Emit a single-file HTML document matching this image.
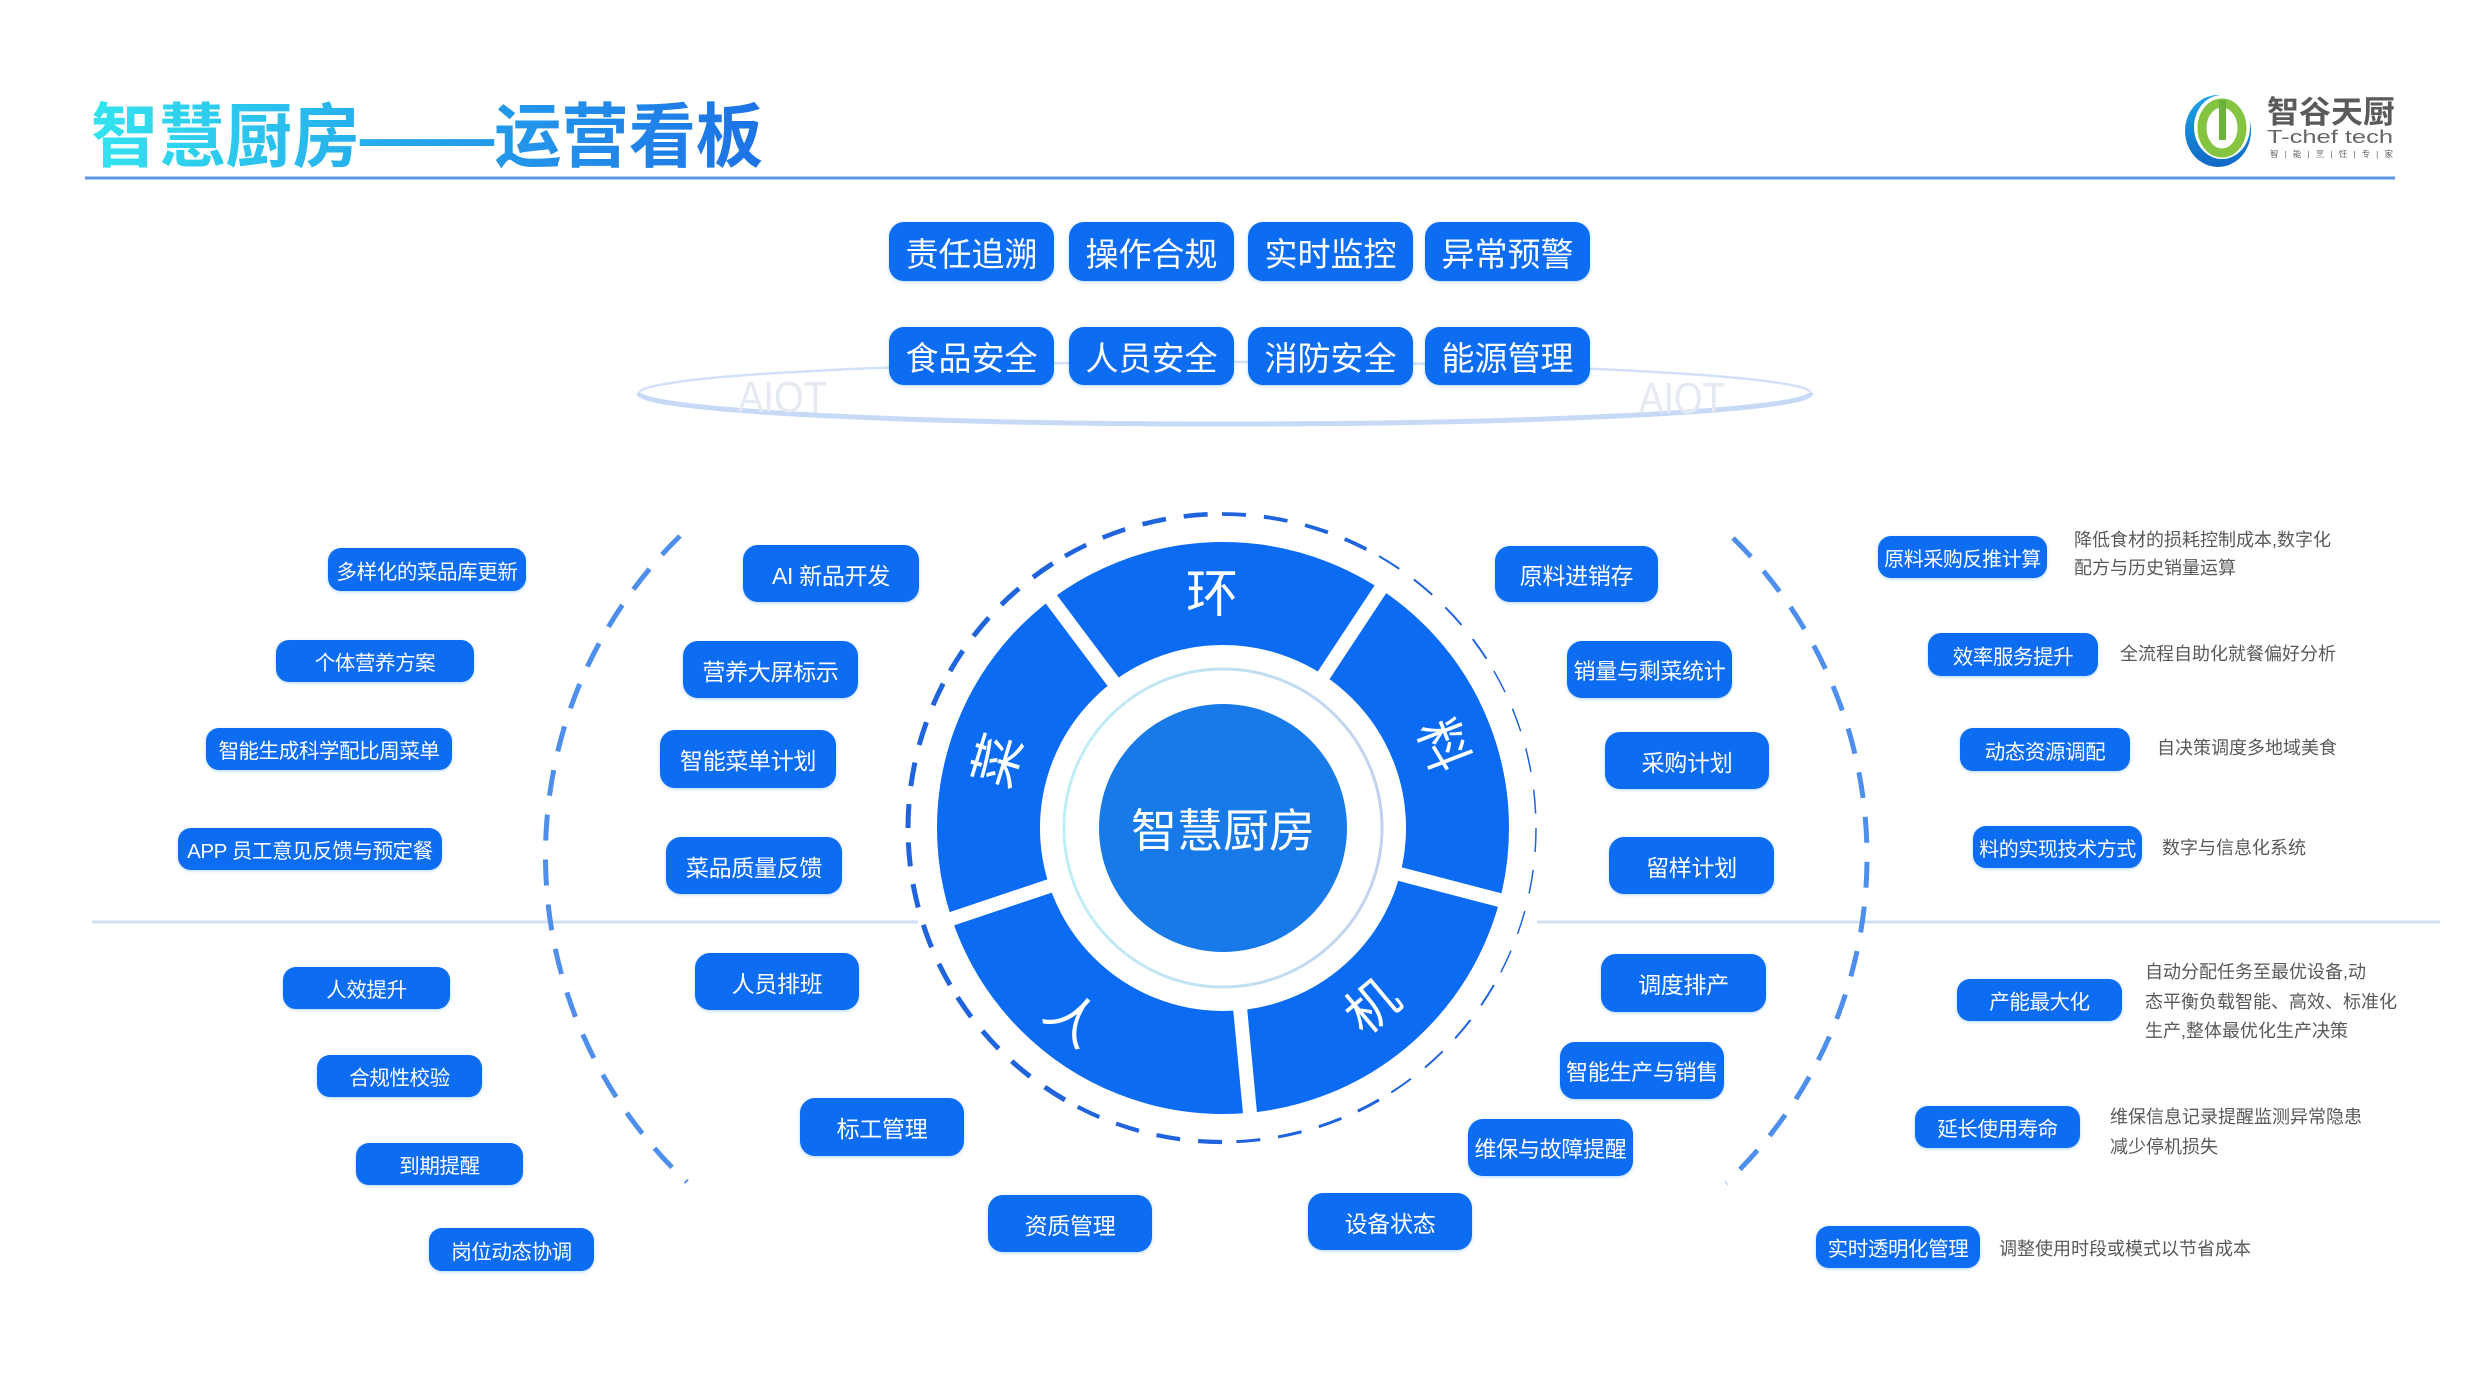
<!DOCTYPE html>
<html><head><meta charset="utf-8"><style>
html,body{margin:0;padding:0;background:#fff}
#p{position:relative;width:2481px;height:1395px;overflow:hidden;background:#fff;font-family:"Liberation Sans","Noto Sans CJK SC",sans-serif}
svg{position:absolute;left:0;top:0}
.b{position:absolute;display:flex;align-items:center;justify-content:center;color:#fff;background:#0c6cf2;white-space:nowrap;box-shadow:0 1px 3px rgba(40,140,240,.35);font-family:"Liberation Sans","Noto Sans CJK SC",sans-serif}
.s{font-size:20.5px;border-radius:13px;letter-spacing:-0.4px}
.m{font-size:23px;border-radius:15px;letter-spacing:-0.3px}
.t{font-size:33px;border-radius:15px}
.d{position:absolute;font-size:18px;color:#595959;white-space:nowrap;font-family:"Liberation Sans","Noto Sans CJK SC",sans-serif}
</style></head><body><div id="p">
<svg width="2481" height="1395" viewBox="0 0 2481 1395" xmlns="http://www.w3.org/2000/svg">
<defs>
<linearGradient id="tg" x1="91" y1="0" x2="763" y2="0" gradientUnits="userSpaceOnUse">
<stop offset="0" stop-color="#33e4ef"/><stop offset="0.45" stop-color="#25a8ec"/><stop offset="1" stop-color="#1d72e6"/>
</linearGradient>
<linearGradient id="rg" x1="1064" y1="0" x2="1382" y2="0" gradientUnits="userSpaceOnUse">
<stop offset="0" stop-color="#c0eef6"/><stop offset="1" stop-color="#c2d2ee"/>
</linearGradient>
<linearGradient id="lg" x1="0" y1="0" x2="0" y2="1">
<stop offset="0" stop-color="#1aa5e6"/><stop offset="1" stop-color="#1168c6"/>
</linearGradient>
</defs>

<!-- title -->
<text x="91" y="161" font-size="70" font-weight="bold" fill="url(#tg)" textLength="672" lengthAdjust="spacingAndGlyphs" font-family="Liberation Sans, Noto Sans CJK SC, sans-serif">智慧厨房——运营看板</text>
<line x1="85" y1="178" x2="2395" y2="178" stroke="#6096e8" stroke-width="3"/>

<!-- logo -->
<ellipse cx="2218" cy="131" rx="33" ry="36" fill="url(#lg)"/>
<ellipse cx="2222" cy="127" rx="28" ry="32" fill="#fff"/>
<ellipse cx="2222" cy="128" rx="20" ry="25" fill="none" stroke="#84c441" stroke-width="9"/>
<rect x="2219" y="100" width="7" height="40" fill="#6cb33c"/>
<text x="2267" y="123" font-size="31" font-weight="bold" fill="#5a5a5a" textLength="128" lengthAdjust="spacingAndGlyphs" font-family="Liberation Sans, Noto Sans CJK SC, sans-serif">智谷天厨</text>
<text x="2267" y="143" font-size="18" fill="#666" textLength="126" lengthAdjust="spacingAndGlyphs" font-family="Liberation Sans, sans-serif">T-chef tech</text>
<text x="2270" y="157" font-size="8.5" fill="#666" textLength="123" lengthAdjust="spacing" font-family="Liberation Sans, Noto Sans CJK SC, sans-serif">智 | 能 | 烹 | 饪 | 专 | 家</text>

<!-- AIOT ellipse -->
<path d="M639 393 A586 31 0 0 0 1811 393" fill="none" stroke="#c6d9f6" stroke-width="5"/>
<path d="M639 393 A586 31 0 0 1 1811 393" fill="none" stroke="#d2e1f8" stroke-width="2.5"/>
<text x="738" y="412" font-size="44" fill="#e5e9f1" textLength="89" lengthAdjust="spacingAndGlyphs" font-family="Liberation Sans, sans-serif">AIOT</text>
<text x="1639" y="413" font-size="44" fill="#e5e9f1" textLength="86" lengthAdjust="spacingAndGlyphs" font-family="Liberation Sans, sans-serif">AIOT</text>

<!-- horizontal divider -->
<line x1="92" y1="922" x2="918" y2="922" stroke="#cfe0f6" stroke-width="3"/>
<line x1="1537" y1="922" x2="2440" y2="922" stroke="#cfe0f6" stroke-width="3"/>

<!-- side dashed arcs -->
<path d="M680 536 A447 447 0 0 0 687 1182" fill="none" stroke="#4e8eec" stroke-width="5" stroke-dasharray="26 19"/>
<path d="M1733 538 A447 447 0 0 1 1726 1183" fill="none" stroke="#4e8eec" stroke-width="5" stroke-dasharray="26 19"/>

<!-- dashed circle with taper -->
<g fill="none" stroke="#1f64dc" stroke-dasharray="24 18">
<path d="M1536 828 A314 314 0 0 1 1493.9 985" stroke-width="1.5"/>
<path d="M1493.9 985 A314 314 0 0 1 1379 1099.9" stroke-width="2"/>
<path d="M1379 1099.9 A314 314 0 0 1 1222 1142" stroke-width="3"/>
<path d="M1222 1142 A314 314 0 0 1 1065 1099.9" stroke-width="4.2"/>
<path d="M1065 1099.9 A314 314 0 0 1 950.1 985" stroke-width="5"/>
<path d="M950.1 985 A314 314 0 0 1 908 828" stroke-width="5"/>
<path d="M908 828 A314 314 0 0 1 950.1 671" stroke-width="5"/>
<path d="M950.1 671 A314 314 0 0 1 1065 556.1" stroke-width="5"/>
<path d="M1065 556.1 A314 314 0 0 1 1222 514" stroke-width="4.6"/>
<path d="M1222 514 A314 314 0 0 1 1379 556.1" stroke-width="3.8"/>
<path d="M1379 556.1 A314 314 0 0 1 1493.9 671" stroke-width="2"/>
<path d="M1493.9 671 A314 314 0 0 1 1536 828" stroke-width="1.5"/>
</g>

<!-- ring -->
<circle cx="1223" cy="828" r="234.5" fill="none" stroke="#0b6bf2" stroke-width="103"/>
<g stroke="#fff" stroke-width="14">
<line x1="1392.3" y1="872.1" x2="1508.5" y2="902.4"/>
<line x1="1239.5" y1="1002.2" x2="1250.8" y2="1121.7"/>
<line x1="1057.0" y1="883.5" x2="943.3" y2="921.6"/>
<line x1="1117.9" y1="688.1" x2="1045.9" y2="592.1"/>
<line x1="1319.3" y1="681.9" x2="1385.4" y2="581.7"/>
</g>
<circle cx="1223" cy="828" r="159" fill="none" stroke="url(#rg)" stroke-width="3"/>
<circle cx="1223" cy="828" r="124" fill="#1879e8"/>
<text x="1223" y="831" font-size="46" fill="#fff" text-anchor="middle" dominant-baseline="central" font-family="Liberation Sans, Noto Sans CJK SC, sans-serif">智慧厨房</text>

<g font-size="52" fill="#fff" text-anchor="middle" dominant-baseline="central" font-family="Liberation Sans, Noto Sans CJK SC, sans-serif">
<text x="1212" y="595">环</text>
<text x="1442" y="746" transform="rotate(69 1442 746)">料</text>
<text x="1373" y="1007" transform="rotate(-40 1373 1007)">机</text>
<text x="1072" y="1020" transform="rotate(39 1072 1020)">人</text>
<text x="999" y="761" transform="rotate(-73 999 761)">菜</text>
</g>
</svg>

<!-- top buttons -->
<div class="b t" style="left:889px;top:222px;width:165px;height:59px">责任追溯</div>
<div class="b t" style="left:1069px;top:222px;width:165px;height:59px">操作合规</div>
<div class="b t" style="left:1248px;top:222px;width:165px;height:59px">实时监控</div>
<div class="b t" style="left:1425px;top:222px;width:165px;height:59px">异常预警</div>
<div class="b t" style="left:889px;top:327px;width:165px;height:58px">食品安全</div>
<div class="b t" style="left:1069px;top:327px;width:165px;height:58px">人员安全</div>
<div class="b t" style="left:1248px;top:327px;width:165px;height:58px">消防安全</div>
<div class="b t" style="left:1425px;top:327px;width:165px;height:58px">能源管理</div>

<!-- left outer -->
<div class="b s" style="left:328px;top:548px;width:198px;height:43px">多样化的菜品库更新</div>
<div class="b s" style="left:276px;top:640px;width:198px;height:42px">个体营养方案</div>
<div class="b s" style="left:206px;top:728px;width:246px;height:42px">智能生成科学配比周菜单</div>
<div class="b s" style="left:178px;top:828px;width:264px;height:42px">APP 员工意见反馈与预定餐</div>
<div class="b s" style="left:283px;top:967px;width:167px;height:42px">人效提升</div>
<div class="b s" style="left:317px;top:1055px;width:165px;height:42px">合规性校验</div>
<div class="b s" style="left:356px;top:1143px;width:167px;height:42px">到期提醒</div>
<div class="b s" style="left:429px;top:1228px;width:165px;height:43px">岗位动态协调</div>

<!-- inner buttons -->
<div class="b m" style="left:743px;top:545px;width:176px;height:57px">AI 新品开发</div>
<div class="b m" style="left:683px;top:641px;width:175px;height:57px">营养大屏标示</div>
<div class="b m" style="left:660px;top:730px;width:176px;height:58px">智能菜单计划</div>
<div class="b m" style="left:666px;top:837px;width:176px;height:57px">菜品质量反馈</div>
<div class="b m" style="left:695px;top:953px;width:164px;height:57px">人员排班</div>
<div class="b m" style="left:800px;top:1098px;width:164px;height:58px">标工管理</div>
<div class="b m" style="left:988px;top:1195px;width:164px;height:57px">资质管理</div>
<div class="b m" style="left:1308px;top:1193px;width:164px;height:57px">设备状态</div>
<div class="b m" style="left:1468px;top:1119px;width:165px;height:57px;font-size:22px">维保与故障提醒</div>
<div class="b m" style="left:1560px;top:1042px;width:164px;height:57px;font-size:22px">智能生产与销售</div>
<div class="b m" style="left:1601px;top:954px;width:165px;height:58px">调度排产</div>
<div class="b m" style="left:1609px;top:837px;width:165px;height:57px">留样计划</div>
<div class="b m" style="left:1605px;top:732px;width:164px;height:57px">采购计划</div>
<div class="b m" style="left:1567px;top:641px;width:165px;height:57px;font-size:22px">销量与剩菜统计</div>
<div class="b m" style="left:1495px;top:546px;width:163px;height:56px">原料进销存</div>

<!-- right outer -->
<div class="b s" style="left:1878px;top:536px;width:169px;height:42px;font-size:20px">原料采购反推计算</div>
<div class="b s" style="left:1928px;top:633px;width:170px;height:43px">效率服务提升</div>
<div class="b s" style="left:1960px;top:728px;width:170px;height:43px">动态资源调配</div>
<div class="b s" style="left:1973px;top:826px;width:169px;height:42px;font-size:20px">料的实现技术方式</div>
<div class="b s" style="left:1957px;top:979px;width:165px;height:42px">产能最大化</div>
<div class="b s" style="left:1915px;top:1106px;width:165px;height:42px">延长使用寿命</div>
<div class="b s" style="left:1816px;top:1226px;width:164px;height:42px">实时透明化管理</div>

<!-- descriptions -->
<div class="d" style="left:2074px;top:526px;line-height:28px">降低食材的损耗控制成本,数字化<br>配方与历史销量运算</div>
<div class="d" style="left:2120px;top:640px;line-height:28px">全流程自助化就餐偏好分析</div>
<div class="d" style="left:2157px;top:734px;line-height:28px">自决策调度多地域美食</div>
<div class="d" style="left:2162px;top:834px;line-height:28px">数字与信息化系统</div>
<div class="d" style="left:2145px;top:958px;line-height:29.5px">自动分配任务至最优设备,动<br>态平衡负载智能、高效、标准化<br>生产,整体最优化生产决策</div>
<div class="d" style="left:2110px;top:1102px;line-height:30px">维保信息记录提醒监测异常隐患<br>减少停机损失</div>
<div class="d" style="left:1999px;top:1235px;line-height:28px">调整使用时段或模式以节省成本</div>
</div></body></html>
